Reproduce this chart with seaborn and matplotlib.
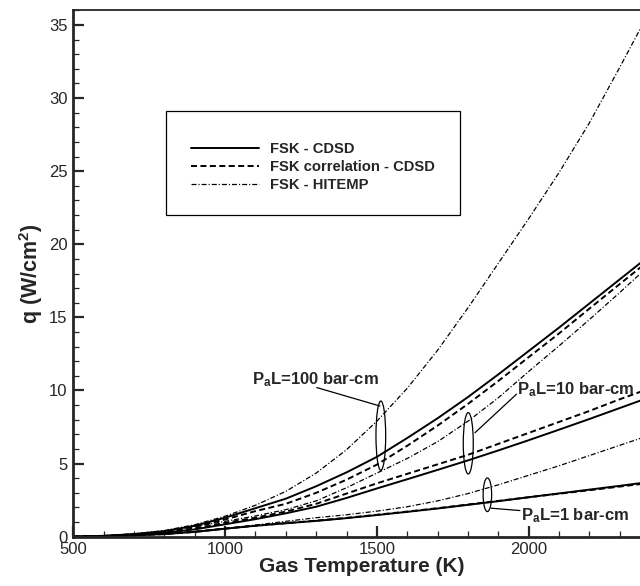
import numpy as np
import pandas as pd
import seaborn as sns
import matplotlib.pyplot as plt
from matplotlib.patches import Ellipse, Rectangle
from matplotlib.ticker import MultipleLocator

# gas temperature grid (K)
temps = [500, 600, 700, 800, 900, 1000, 1100, 1200, 1300, 1400, 1500,
         1600, 1700, 1800, 1900, 2000, 2100, 2200, 2300, 2400]

# wall heat flux q (W/cm2)
# PaL = 100 bar-cm
q100_cdsd = [0.0, 0.06, 0.18, 0.38, 0.75, 1.30, 1.95, 2.60, 3.45, 4.40, 5.46,
             6.75, 8.10, 9.55, 11.10, 12.70, 14.30, 15.95, 17.60, 19.25]
q100_corr = [0.0, 0.05, 0.16, 0.35, 0.68, 1.18, 1.75, 2.25, 3.00, 3.90, 4.93,
             6.22, 7.60, 9.08, 10.65, 12.28, 13.90, 15.60, 17.28, 18.95]
q100_hitemp = [0.0, 0.07, 0.20, 0.42, 0.82, 1.40, 2.15, 3.10, 4.35, 5.95, 7.90,
               10.15, 12.75, 15.65, 18.70, 21.75, 24.90, 28.30, 32.10, 36.00]
# PaL = 10 bar-cm
q10_cdsd = [0.0, 0.04, 0.13, 0.27, 0.50, 0.85, 1.20, 1.60, 2.05, 2.65, 3.30,
            3.93, 4.57, 5.22, 5.90, 6.60, 7.32, 8.05, 8.80, 9.55]
q10_corr = [0.0, 0.045, 0.14, 0.30, 0.57, 0.95, 1.30, 1.72, 2.25, 2.95, 3.65,
            4.30, 4.95, 5.60, 6.35, 7.10, 7.85, 8.60, 9.40, 10.15]
q10_hitemp = [0.0, 0.06, 0.18, 0.38, 0.70, 1.05, 1.42, 1.85, 2.45, 3.35, 4.35,
              5.35, 6.50, 7.90, 9.50, 11.30, 13.05, 14.85, 16.70, 18.60]
# PaL = 1 bar-cm
q1_cdsd = [0.0, 0.03, 0.09, 0.18, 0.33, 0.55, 0.75, 0.92, 1.08, 1.27, 1.48,
           1.70, 1.93, 2.18, 2.43, 2.70, 2.96, 3.22, 3.48, 3.75]
q1_corr = [0.0, 0.03, 0.09, 0.18, 0.33, 0.55, 0.75, 0.93, 1.10, 1.29, 1.50,
           1.72, 1.95, 2.20, 2.45, 2.70, 2.94, 3.18, 3.43, 3.68]
q1_hitemp = [0.0, 0.03, 0.10, 0.20, 0.36, 0.57, 0.80, 1.05, 1.30, 1.50, 1.75,
             2.05, 2.45, 2.95, 3.55, 4.20, 4.85, 5.55, 6.25, 6.95]

methods = ['FSK - CDSD', 'FSK correlation - CDSD', 'FSK - HITEMP']
curves = {
    100: [q100_cdsd, q100_corr, q100_hitemp],
    10: [q10_cdsd, q10_corr, q10_hitemp],
    1: [q1_cdsd, q1_corr, q1_hitemp],
}

rows = []
for pal, series in curves.items():
    for m, q in zip(methods, series):
        for t, v in zip(temps, q):
            rows.append((pal, m, t, v))
df = pd.DataFrame(rows, columns=['PaL', 'method', 'T', 'q'])

sns.set_style('ticks')
plt.rcParams['font.family'] = ['Liberation Sans', 'DejaVu Sans']
plt.rcParams['mathtext.fontset'] = 'custom'
plt.rcParams['mathtext.rm'] = 'Liberation Sans:bold'
plt.rcParams['mathtext.bf'] = 'Liberation Sans:bold'
plt.rcParams['mathtext.default'] = 'bf'

fig = plt.figure(figsize=(6.4, 5.86), dpi=100)
# axes run a little past the right edge of the picture, like the original
ax = fig.add_axes([0.1145, 0.0841, 0.9013, 0.8983])

line_styles = {
    'FSK - CDSD': dict(ls='-', lw=1.4),
    'FSK correlation - CDSD': dict(ls=(0, (3.1, 1.75)), lw=1.4),
    'FSK - HITEMP': dict(ls=(0, (4, 1.6, 0.9, 1.6)), lw=0.9),
}

for pal in [100, 10, 1]:
    for m in methods:
        sub = df[(df['PaL'] == pal) & (df['method'] == m)]
        sns.lineplot(data=sub, x='T', y='q', ax=ax, color='black',
                     label=m if pal == 100 else None, estimator=None,
                     linestyle=line_styles[m]['ls'], linewidth=line_styles[m]['lw'])

ax.set_xlim(500, 2400)
ax.set_ylim(0, 36)
ax.set_xticks([500, 1000, 1500, 2000])
ax.xaxis.set_minor_locator(MultipleLocator(100))
ax.yaxis.set_major_locator(MultipleLocator(5))
ax.yaxis.set_minor_locator(MultipleLocator(1))
ax.tick_params(which='major', direction='in', length=8, width=1.6, labelsize=12, pad=4)
ax.tick_params(which='minor', direction='in', length=4.3, width=0.9)

for s in ['left', 'bottom']:
    ax.spines[s].set_linewidth(2.0)
ax.spines['top'].set_linewidth(1.3)
ax.spines['right'].set_linewidth(1.3)

ax.set_xlabel('Gas Temperature (K)', fontsize=15, fontweight='bold', labelpad=0)
ax.set_ylabel('q (W/cm$^2$)', fontsize=15.5, fontweight='bold', labelpad=3)

# legend box
ax.add_patch(Rectangle((0.1616, 0.6111), 0.5082, 0.1981, transform=ax.transAxes,
                       fill=False, edgecolor='black', linewidth=0.9))
leg = ax.legend(loc='upper left', bbox_to_anchor=(0.204, 0.7495), frameon=False,
                prop=dict(size=10.6, weight='bold'), handlelength=4.6,
                handletextpad=0.8, labelspacing=0.26, borderpad=0, borderaxespad=0)

# PaL group markers
ann_kw = dict(fontsize=12, fontweight='bold', ha='center', va='baseline')
ax.add_patch(Ellipse((1513, 6.91), 32, 4.74, fill=False, lw=0.9, color='black'))
ax.plot([1302, 1510], [10.2, 8.94], color='black', lw=0.9)
ax.text(1299, 10.45, r'P$_a$L=100 bar-cm', **ann_kw)

ax.add_patch(Ellipse((1801, 6.39), 33, 4.2, fill=False, lw=0.9, color='black'))
ax.plot([1823, 1960], [7.11, 9.75], color='black', lw=0.9)
ax.text(2154, 9.75, r'P$_a$L=10 bar-cm', **ann_kw)

ax.add_patch(Ellipse((1864, 2.87), 28, 2.3, fill=False, lw=0.9, color='black'))
ax.plot([1876, 1971], [1.95, 1.79], color='black', lw=0.9)
ax.text(2154, 1.15, r'P$_a$L=1 bar-cm', **ann_kw)

fig.savefig('out.png', dpi=100)
